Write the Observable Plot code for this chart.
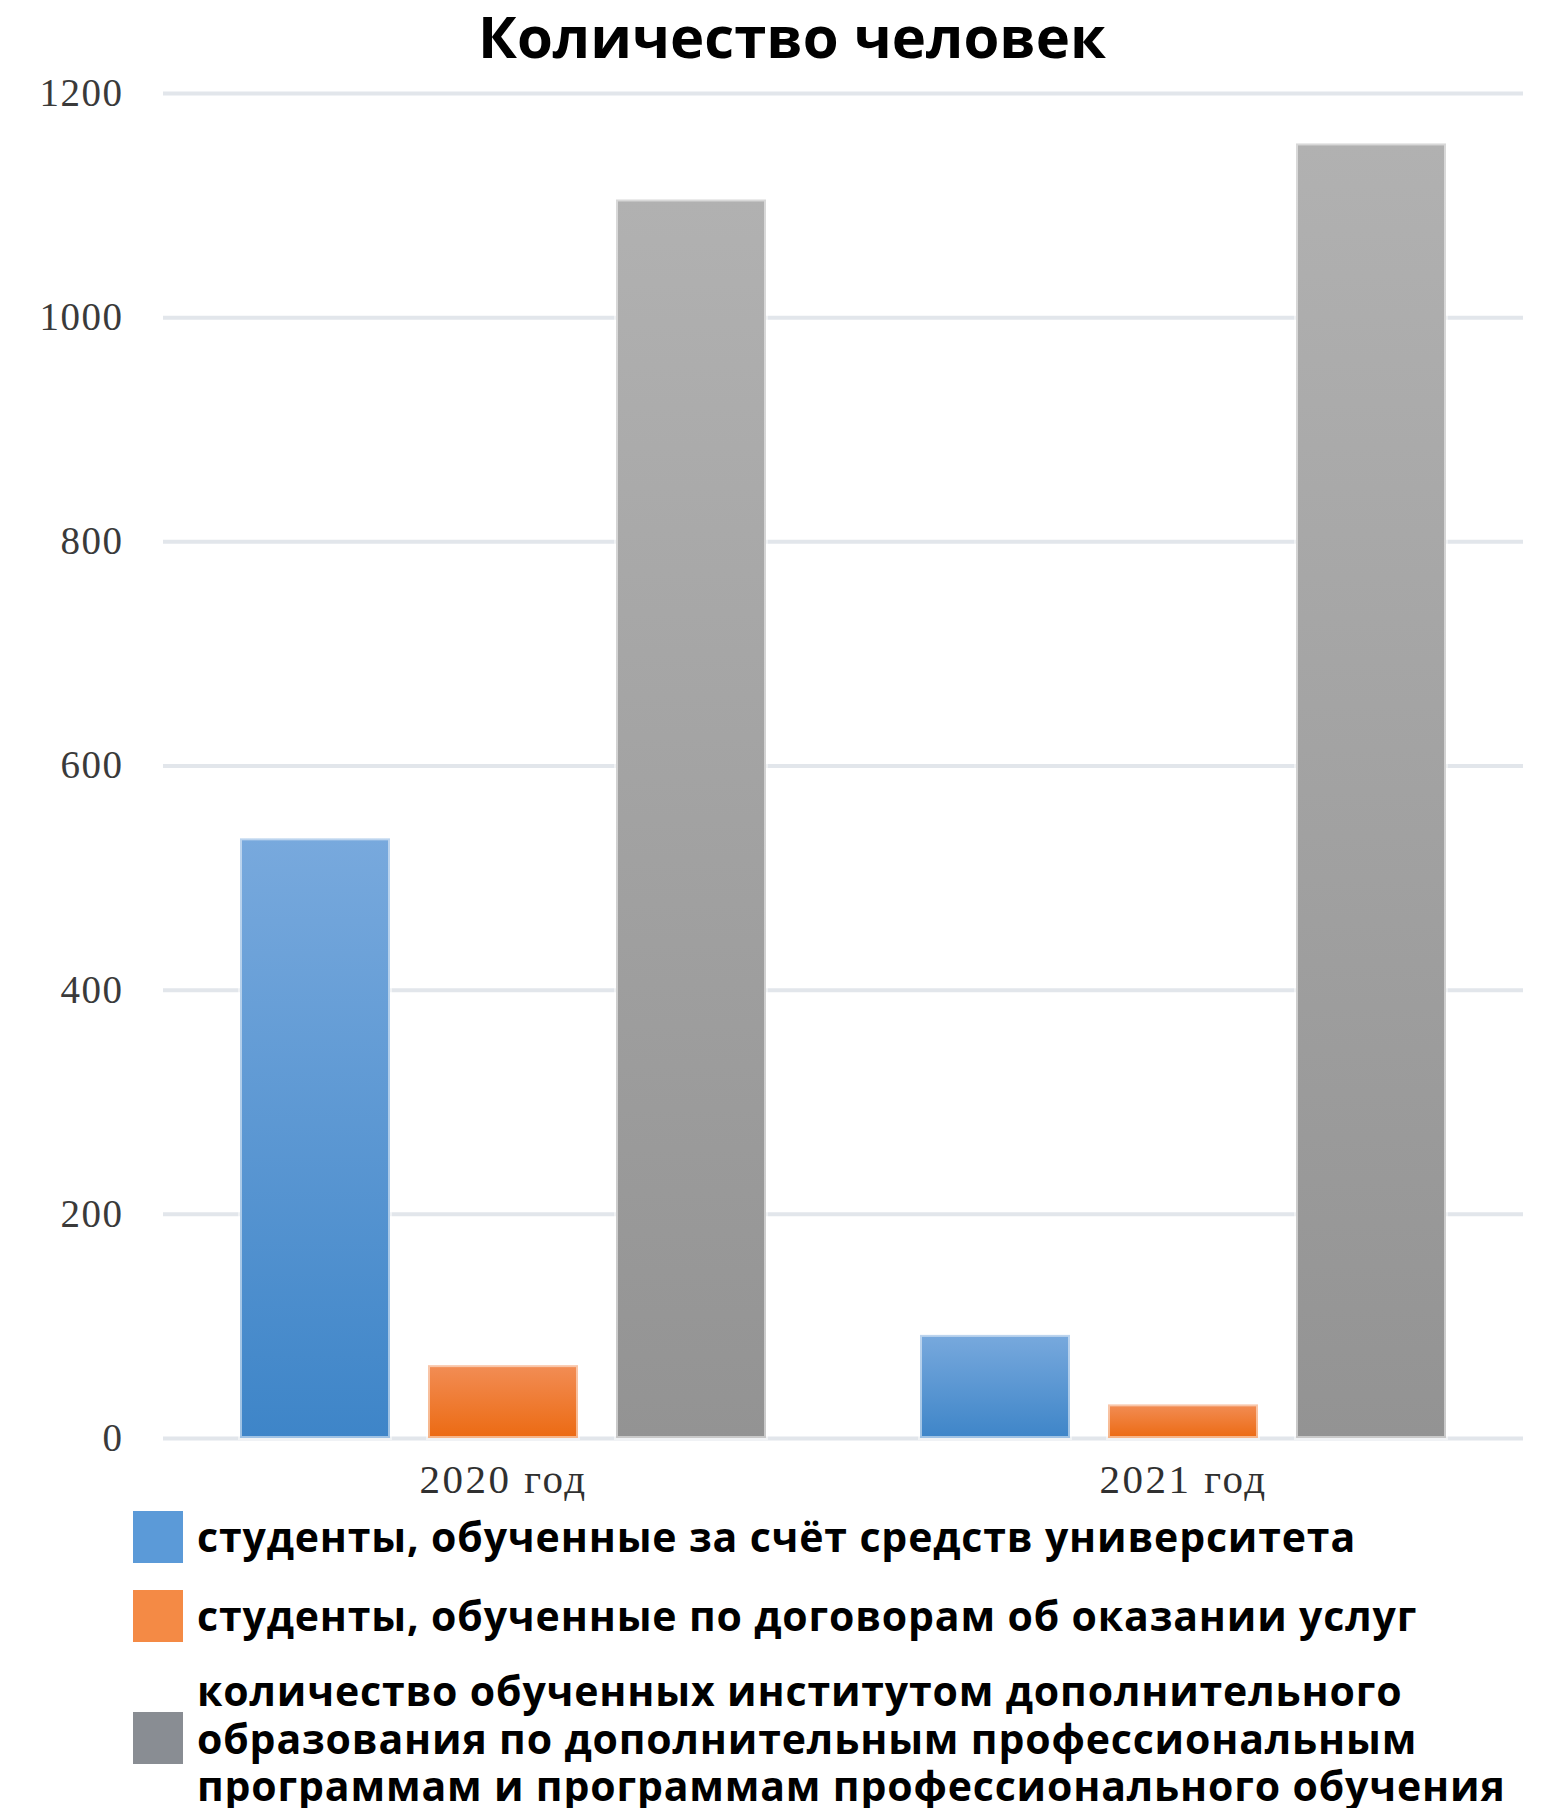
<!DOCTYPE html>
<html><head><meta charset="utf-8">
<script src="https://cdn.jsdelivr.net/npm/d3@7"></script>
<script src="https://cdn.jsdelivr.net/npm/@observablehq/plot@0.6"></script>
<style>
html,body{margin:0;padding:0;background:#fff;overflow:hidden;}
#title{height:70px;box-sizing:border-box;padding-left:35px;text-align:center;font-family:"Open Sans";font-weight:700;font-size:58px;line-height:72px;color:#000;white-space:nowrap;}
#chart svg text{font-family:"Liberation Serif";font-size:39px;fill:#3a3a3a;letter-spacing:1.5px;}
#chart svg [aria-label^="fx-axis"] text{font-size:41px;letter-spacing:2.5px;fill:#303030;}
#legend{margin-top:1px;padding-left:133px;display:flex;flex-direction:column;}
.item{display:flex;align-items:center;}
.item + .item{margin-top:27px;}
.item + .item + .item{margin-top:25px;}
.sw{width:50px;height:52px;flex:none;margin-right:14px;}
.lab{font-family:"Open Sans";font-weight:700;font-size:41px;line-height:47.5px;letter-spacing:0.85px;white-space:nowrap;color:#000;}
</style>
</head><body>
<div id="title">Количество человек</div>
<div id="chart"></div>
<div id="legend"></div>
<script>
const years = ["2020 год", "2021 год"];
const seriesNames = [
  "студенты, обученные за счёт средств университета",
  "студенты, обученные по договорам об оказании услуг",
  "количество обученных институтом дополнительного образования по дополнительным профессиональным программам и программам профессионального обучения"
];
const legendLines = [
  ["студенты, обученные за счёт средств университета"],
  ["студенты, обученные по договорам об оказании услуг"],
  ["количество обученных институтом дополнительного", "образования по дополнительным профессиональным", "программам и программам профессионального обучения"]
];
const universityFunded = [535, 92];
const contractBased = [65, 30];
const additionalEducation = [1105, 1155];
const yTicks = [0, 200, 400, 600, 800, 1000, 1200];
const swatchColors = ["#5b9ad8", "#f48a45", "#898d93"];
const gradIds = ["gBlue", "gOrange", "gGray"];

const seriesValues = [universityFunded, contractBased, additionalEducation];
const rows = [];
years.forEach((yr, i) => {
  seriesNames.forEach((s, j) => rows.push({year: yr, series: s, value: seriesValues[j][i]}));
});

const svg = Plot.plot({
  width: 1549,
  height: 1440,
  marginTop: 23,
  marginBottom: 72,
  marginLeft: 163,
  marginRight: 26,
  facet: {data: rows, x: "year"},
  fx: {domain: years, padding: 0, tickSize: 0, tickPadding: 25, label: null, axis: "bottom"},
  x: {domain: seriesNames, paddingInner: 0.2, paddingOuter: 0.404, axis: null},
  y: {domain: [0, 1200], ticks: yTicks, tickFormat: d => String(d), tickSize: 0, tickPadding: 40, label: null},
  color: {type: "ordinal", domain: seriesNames, range: gradIds.map(id => `url(#${id})`)},
  marks: [
    Plot.ruleY(yTicks, {stroke: "#e2e6eb", strokeWidth: 4}),
    Plot.barY(rows, {x: "series", y: "value", fill: "series", stroke: "white", strokeOpacity: 0.5, strokeWidth: 4})
  ]
});

const defs = `<defs>
<linearGradient id="gBlue" x1="0" y1="0" x2="0" y2="1"><stop offset="0" stop-color="#78a9dd"/><stop offset="1" stop-color="#3e85c8"/></linearGradient>
<linearGradient id="gOrange" x1="0" y1="0" x2="0" y2="1"><stop offset="0" stop-color="#f28d55"/><stop offset="1" stop-color="#ec6a12"/></linearGradient>
<linearGradient id="gGray" x1="0" y1="0" x2="0" y2="1"><stop offset="0" stop-color="#b1b1b1"/><stop offset="1" stop-color="#939393"/></linearGradient>
</defs>`;
svg.insertAdjacentHTML("afterbegin", defs);
document.getElementById("chart").appendChild(svg);

const legend = document.getElementById("legend");
legendLines.forEach((lines, i) => {
  const item = document.createElement("div");
  item.className = "item";
  const sw = document.createElement("div");
  sw.className = "sw";
  sw.style.background = swatchColors[i];
  const lab = document.createElement("div");
  lab.className = "lab";
  lines.forEach((l, k) => {
    if (k) lab.appendChild(document.createElement("br"));
    lab.appendChild(document.createTextNode(l));
  });
  item.appendChild(sw);
  item.appendChild(lab);
  legend.appendChild(item);
});
</script>
</body></html>
